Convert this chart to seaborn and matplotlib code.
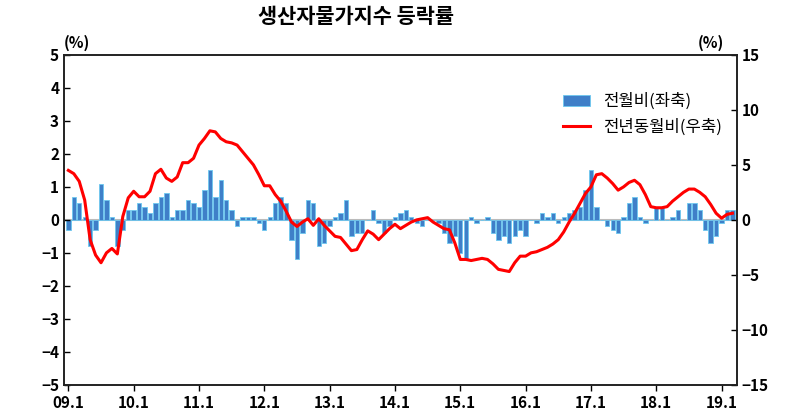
import matplotlib
matplotlib.use("Agg")
import matplotlib.pyplot as plt
import seaborn as sns
import numpy as np
import pandas as pd

plt.rcParams["font.family"] = ["Noto Sans CJK JP", "Noto Sans CJK KR", "DejaVu Sans"]

# month-on-month change (%) 2009.1 - 2019.3, left axis
mom = [
    -0.3, 0.7, 0.5, 0.1, -0.8, -0.3, 1.1, 0.6, 0.1, -0.8, -0.3, 0.3,   # 2009
    0.3, 0.5, 0.4, 0.2, 0.5, 0.7, 0.8, 0.1, 0.3, 0.3, 0.6, 0.5,        # 2010
    0.4, 0.9, 1.5, 0.7, 1.2, 0.6, 0.3, -0.2, 0.1, 0.1, 0.1, -0.1,      # 2011
    -0.3, 0.1, 0.5, 0.7, 0.5, -0.6, -1.2, -0.4, 0.6, 0.5, -0.8, -0.7,  # 2012
    -0.2, 0.1, 0.2, 0.6, -0.5, -0.4, -0.4, 0.0, 0.3, -0.1, -0.4, -0.2, # 2013
    0.1, 0.2, 0.3, 0.1, -0.1, -0.2, 0.0, 0.0, -0.1, -0.4, -0.7, -0.5,  # 2014
    -1.0, -1.2, 0.1, -0.1, 0.0, 0.1, -0.4, -0.6, -0.5, -0.7, -0.5, -0.3, # 2015
    -0.5, 0.0, -0.1, 0.2, 0.1, 0.2, -0.1, 0.1, 0.2, 0.3, 0.4, 0.9,     # 2016
    1.5, 0.4, 0.0, -0.2, -0.3, -0.4, 0.1, 0.5, 0.7, 0.1, -0.1, 0.0,    # 2017
    0.4, 0.4, 0.0, 0.1, 0.3, 0.0, 0.5, 0.5, 0.3, -0.3, -0.7, -0.5,     # 2018
    -0.1, 0.3, 0.3,                                                    # 2019
]

# year-on-year change (%), right axis
yoy = [
    4.5, 4.2, 3.5, 1.8, -1.8, -3.2, -3.9, -3.0, -2.6, -3.1, 0.3, 2.0,
    2.6, 2.1, 2.1, 2.6, 4.2, 4.6, 3.8, 3.5, 3.9, 5.2, 5.2, 5.6,
    6.8, 7.4, 8.1, 8.0, 7.4, 7.1, 7.0, 6.8, 6.2, 5.6, 5.0, 4.1,
    3.1, 3.1, 2.3, 1.7, 0.8, -0.2, -0.6, -0.2, 0.1, -0.5, 0.1, -0.5,
    -1.0, -1.5, -1.6, -2.2, -2.8, -2.7, -1.8, -1.0, -1.3, -1.8, -1.3, -0.8,
    -0.4, -0.8, -0.5, -0.2, 0.0, 0.1, 0.2, -0.2, -0.5, -0.8, -0.9, -2.1,
    -3.6, -3.6, -3.7, -3.6, -3.5, -3.6, -4.0, -4.5, -4.6, -4.7, -3.9, -3.3,
    -3.3, -3.0, -2.9, -2.7, -2.5, -2.2, -1.8, -1.1, -0.2, 0.6, 1.5, 2.4,
    3.0, 4.1, 4.2, 3.8, 3.3, 2.7, 3.0, 3.4, 3.6, 3.2, 2.3, 1.2,
    1.1, 1.1, 1.2, 1.7, 2.1, 2.5, 2.8, 2.8, 2.5, 2.1, 1.4, 0.6,
    0.15, 0.5, 0.6,
]

tick_labels = ["09.1", "10.1", "11.1", "12.1", "13.1", "14.1",
               "15.1", "16.1", "17.1", "18.1", "19.1"]

df = pd.DataFrame({"t": np.arange(len(mom)), "mom": mom, "yoy": yoy})

fig = plt.figure(figsize=(8, 4.16), dpi=100)
ax = fig.add_axes([0.08, 0.075, 0.841, 0.793])
ax2 = ax.twinx()

ax.axhline(0, color="#bbbbbb", lw=1.5, zorder=0)
sns.barplot(data=df, x="t", y="mom", native_scale=True, ax=ax, width=0.8,
            color="#3f7fc8", saturation=1, edgecolor="#6cc8f0", linewidth=0.6,
            label="전월비(좌축)")
sns.lineplot(data=df, x="t", y="yoy", ax=ax2, color="#ff0000", lw=2.2,
             label="전년동월비(우축)")

ax.set_xlim(-0.8, len(mom) - 0.2)
ax.set_ylim(-5, 5)
ax2.set_ylim(-15, 15)
ax.set_yticks(range(-5, 6))
ax2.set_yticks(range(-15, 16, 5))
ax.set_xticks(range(0, len(mom), 12))
ax.set_xticklabels(tick_labels)
for a in (ax, ax2):
    a.set_xlabel("")
    a.set_ylabel("")
    a.tick_params(labelsize=11, width=1, length=4)
    for lab in a.get_yticklabels() + a.get_xticklabels():
        lab.set_fontweight("bold")
    for s in a.spines.values():
        s.set_color("#222222")
        s.set_linewidth(1.2)
ax.tick_params(axis="x", length=4, direction="out")
ax.tick_params(axis="y", direction="in")
ax2.tick_params(axis="y", direction="in")

fig.text(0.08, 0.885, "(%)", fontsize=11, fontweight="bold", ha="left")
fig.text(0.905, 0.885, "(%)", fontsize=11, fontweight="bold", ha="right")
fig.text(0.445, 0.945, "생산자물가지수 등락률", fontsize=15, fontweight="bold", ha="center")

h1, l1 = ax.get_legend_handles_labels()
h2, l2 = ax2.get_legend_handles_labels()
if ax.get_legend():
    ax.get_legend().remove()
if ax2.get_legend():
    ax2.get_legend().remove()
ax2.legend(h1 + h2, l1 + l2, loc="upper right", bbox_to_anchor=(1.0, 0.93),
           frameon=False, fontsize=12, handlelength=1.6)

fig.savefig("out.png", dpi=100)
